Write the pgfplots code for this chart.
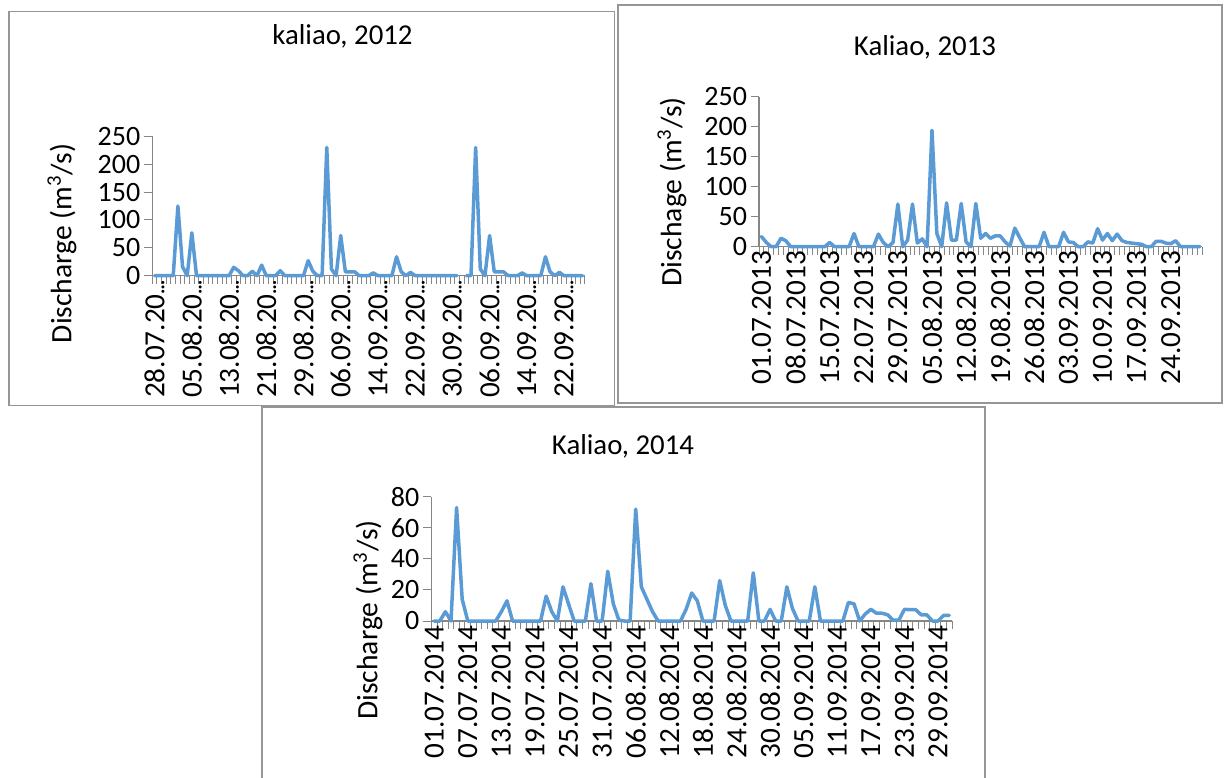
\documentclass[border=0pt]{standalone}
\usepackage{fontspec}
\setmainfont{Carlito}
\usepackage{pgfplots}
\pgfplotsset{compat=1.18}
\definecolor{serie}{RGB}{91,155,213}
\definecolor{axgray}{RGB}{134,134,134}
\definecolor{framegray}{RGB}{150,150,150}
\newcommand{\xtickfont}{\fontsize{14.6}{16}\selectfont}
\newcommand{\ytickfont}{\fontsize{14}{16}\selectfont}
\newcommand{\ylabfont}{\fontsize{14.8}{17}\selectfont}
\newcommand{\titfont}{\fontsize{14.4}{17}\selectfont}
\newcommand{\el}{{\fontsize{10}{10}\selectfont\bfseries …}}
\pgfplotsset{
  panel/.style={
    scale only axis,
    axis x line*=bottom, axis y line*=left,
    axis line style={draw=axgray, line width=0.7pt},
    tick align=outside,
    major tick length=4pt,
    minor tick length=4pt,
    tick style={draw=axgray, line width=0.5pt},
    major x tick style={draw=none},
    xticklabel style={rotate=90, anchor=east, font=\xtickfont, inner sep=1pt},
    xticklabel shift=-3pt,
    yticklabel style={font=\ytickfont},
    yticklabel shift=-1.5pt,
    /pgf/number format/assume math mode=true,
    clip=false,
    unbounded coords=jump,
    ymin=0,
  },
  serie/.style={color=serie, line width=1.75pt, line join=round, line cap=round, mark=none},
}
\begin{document}
\begin{tikzpicture}
% frames
\draw[framegray, line width=0.8pt] (4.35pt,382.65pt) rectangle (307.3pt,185.75pt);
\draw[framegray, line width=0.8pt] (309pt,386pt) rectangle (611pt,187pt);
\draw[framegray, line width=0.8pt] (131pt,-10pt) rectangle (492.5pt,185pt);

% Panel 1 (2012)
\begin{axis}[panel, at={(76.15pt,250.65pt)}, anchor=south west,
  width=216.35pt, height=69.7pt,
  xmin=-0.5, xmax=92.5, ymax=250, ytick={0,50,...,250},
  xtick={0,8,...,88},
  xticklabels={28.07.20\el,05.08.20\el,13.08.20\el,21.08.20\el,29.08.20\el,06.09.20\el,14.09.20\el,22.09.20\el,30.09.20\el,06.09.20\el,14.09.20\el,22.09.20\el},
  minor xtick={-0.5,0.5,...,92.5}]
\addplot[serie] table[x expr=\coordindex, y index=0, header=false, row sep=\\]{
0\\0\\0\\0\\0\\125\\16\\0\\77\\0\\
0\\0\\0\\0\\0\\0\\0\\15\\9\\0\\
0\\8\\0\\19\\0\\0\\0\\9\\0\\0\\
0\\0\\0\\27\\8\\0\\0\\230\\12\\0\\
72\\7\\7\\7\\0\\0\\0\\5\\0\\0\\
0\\0\\34\\7\\0\\6\\0\\0\\0\\0\\
0\\0\\0\\0\\0\\0\\nan\\0\\0\\230\\
12\\0\\72\\7\\7\\7\\0\\0\\0\\5\\
0\\0\\0\\0\\34\\7\\0\\6\\0\\0\\
0\\0\\0\\
};
\end{axis}
\node[font=\titfont] at (171.25pt,370.5pt) {kaliao, 2012};
\node[font=\ylabfont, rotate=90] at (31pt,266.75pt) {Discharge (m\textsuperscript{3}/s)};

% Panel 2 (2013)
\begin{axis}[panel, at={(379.5pt,265.15pt)}, anchor=south west,
  width=221.7pt, height=75pt,
  xmin=-0.5, xmax=90.5, ymax=250, ytick={0,50,...,250},
  xtick={0,7,...,84},
  xticklabels={01.07.2013,08.07.2013,15.07.2013,22.07.2013,29.07.2013,05.08.2013,12.08.2013,19.08.2013,26.08.2013,03.09.2013,10.09.2013,17.09.2013,24.09.2013},
  minor xtick={-0.5,0.5,...,90.5}]
\addplot[serie] table[x expr=\coordindex, y index=0, header=false, row sep=\\]{
17\\7\\0\\0\\14\\10\\0\\0\\0\\0\\
0\\0\\0\\0\\7\\0\\0\\0\\0\\22\\
0\\0\\0\\0\\21\\7\\0\\7\\71\\0\\
11\\71\\6\\13\\0\\194\\22\\0\\73\\11\\
11\\72\\8\\0\\72\\14\\22\\14\\18\\18\\
8\\1\\31\\15\\0\\0\\0\\0\\24\\0\\
0\\0\\24\\8\\7\\0\\0\\8\\6\\30\\
11\\22\\10\\21\\10\\7\\6\\5\\4\\0\\
0\\9\\9\\6\\5\\10\\0\\0\\0\\0\\
0\\
};
\end{axis}
\node[font=\titfont] at (462.5pt,365pt) {Kaliao, 2013};
\node[font=\ylabfont, rotate=90] at (336pt,292.5pt) {Dischage (m\textsuperscript{3}/s)};

% Panel 3 (2014)
\begin{axis}[panel, at={(215.7pt,78pt)}, anchor=south west,
  width=260.3pt, height=62.15pt,
  xmin=-0.5, xmax=92.5, ymax=80, ytick={0,20,...,80},
  xtick={0,6,...,90},
  xticklabels={01.07.2014,07.07.2014,13.07.2014,19.07.2014,25.07.2014,31.07.2014,06.08.2014,12.08.2014,18.08.2014,24.08.2014,30.08.2014,05.09.2014,11.09.2014,17.09.2014,23.09.2014,29.09.2014},
  minor xtick={-0.5,0.5,...,92.5}]
\addplot[serie] table[x expr=\coordindex, y index=0, header=false, row sep=\\]{
0\\0\\6\\0\\73\\14\\0\\0\\0\\0\\
0\\0\\6\\13\\0\\0\\0\\0\\0\\0\\
16\\6\\0\\22\\11\\0\\0\\0\\24\\0\\
0\\32\\11\\0.5\\0\\0\\72\\22\\14\\6\\
0\\0\\0\\0\\0\\7.5\\18\\13\\0\\0\\
0\\26\\10\\0\\0\\0\\0\\31\\0\\0\\
7.5\\0\\0\\22\\8\\0\\0\\0\\22\\0\\
0\\0\\0\\0\\12\\11\\0\\4.5\\7.5\\5\\
5\\4\\0.5\\0.5\\7.5\\7.3\\7.3\\4\\4\\0\\
0\\3.6\\3.6\\
};
\end{axis}
\node[font=\titfont] at (311.5pt,165.5pt) {Kaliao, 2014};
\node[font=\ylabfont, rotate=90] at (184pt,78.5pt) {Discharge (m\textsuperscript{3}/s)};

\pgfresetboundingbox
\useasboundingbox (0,0) rectangle (612.5pt,388.5pt);
\end{tikzpicture}
\end{document}
